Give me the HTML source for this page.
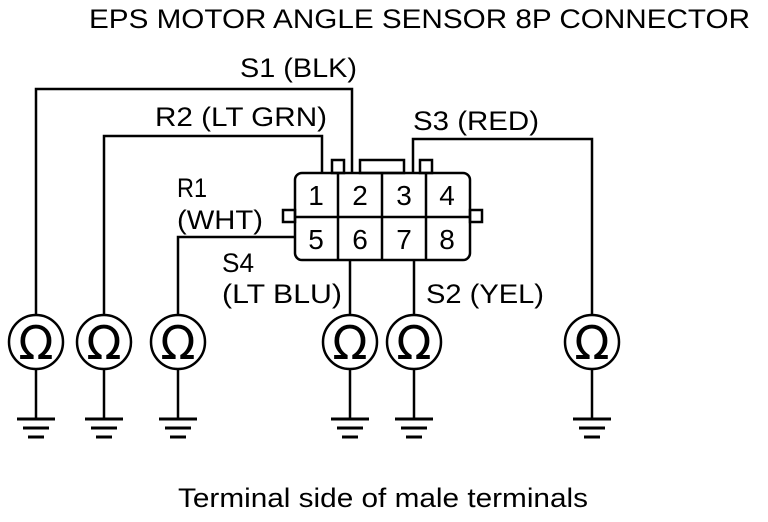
<!DOCTYPE html>
<html><head><meta charset="utf-8"><style>
html,body{margin:0;padding:0;background:#fff;width:768px;height:522px;overflow:hidden}
</style></head><body>
<svg width="768" height="522" viewBox="0 0 768 522" xmlns="http://www.w3.org/2000/svg" font-family="Liberation Sans, Arial, sans-serif" fill="none" stroke="#000" stroke-width="2.5">
<g fill="#000" stroke="none" font-size="27">
<text x="89" y="28" textLength="661" lengthAdjust="spacingAndGlyphs">EPS MOTOR ANGLE SENSOR 8P CONNECTOR</text>
<text x="240" y="77" textLength="117" lengthAdjust="spacingAndGlyphs">S1 (BLK)</text>
<text x="155" y="126" textLength="172" lengthAdjust="spacingAndGlyphs">R2 (LT GRN)</text>
<text x="413" y="130" textLength="126" lengthAdjust="spacingAndGlyphs">S3 (RED)</text>
<text x="177" y="197" textLength="30" lengthAdjust="spacingAndGlyphs">R1</text>
<text x="177" y="229" textLength="86" lengthAdjust="spacingAndGlyphs">(WHT)</text>
<text x="222" y="272" textLength="32" lengthAdjust="spacingAndGlyphs">S4</text>
<text x="222" y="303" textLength="120" lengthAdjust="spacingAndGlyphs">(LT BLU)</text>
<text x="426" y="303" textLength="118" lengthAdjust="spacingAndGlyphs">S2 (YEL)</text>
<text x="178" y="507" textLength="410" lengthAdjust="spacingAndGlyphs">Terminal side of male terminals</text>
<g font-size="28">
<text x="316" y="205" text-anchor="middle">1</text>
<text x="360" y="205" text-anchor="middle">2</text>
<text x="404" y="205" text-anchor="middle">3</text>
<text x="447" y="205" text-anchor="middle">4</text>
<text x="316" y="249" text-anchor="middle">5</text>
<text x="360" y="249" text-anchor="middle">6</text>
<text x="404" y="249" text-anchor="middle">7</text>
<text x="447" y="249" text-anchor="middle">8</text>
</g>
</g>
<rect x="295" y="173" width="175" height="87" rx="7"/>
<line x1="338" y1="173" x2="338" y2="260"/>
<line x1="382" y1="173" x2="382" y2="260"/>
<line x1="426" y1="173" x2="426" y2="260"/>
<line x1="295" y1="217" x2="470" y2="217"/>
<rect x="332" y="160" width="12" height="13"/>
<rect x="360" y="160" width="44" height="13"/>
<rect x="420" y="160" width="12" height="13"/>
<rect x="283" y="210" width="12" height="12"/>
<rect x="470" y="210" width="12" height="12"/>
<polyline points="352,173 352,89 36,89 36,315"/>
<polyline points="322,173 322,136 104,136 104,315"/>
<polyline points="413,173 413,139 592,139 592,315"/>
<polyline points="295,237 178,237 178,315"/>
<line x1="350" y1="260" x2="350" y2="315"/>
<line x1="414" y1="260" x2="414" y2="315"/>
<g font-size="46" font-family="DejaVu Sans, sans-serif">
<g transform="translate(36,0)"><circle cx="0" cy="342" r="27"/><line x1="0" y1="369" x2="0" y2="419"/><line x1="-19" y1="419" x2="19" y2="419" stroke-width="3"/><line x1="-13" y1="428" x2="13" y2="428" stroke-width="3"/><line x1="-8" y1="437" x2="8" y2="437" stroke-width="3"/><text x="0" y="359" text-anchor="middle" fill="#000" stroke="none">Ω</text></g>
<g transform="translate(104,0)"><circle cx="0" cy="342" r="27"/><line x1="0" y1="369" x2="0" y2="419"/><line x1="-19" y1="419" x2="19" y2="419" stroke-width="3"/><line x1="-13" y1="428" x2="13" y2="428" stroke-width="3"/><line x1="-8" y1="437" x2="8" y2="437" stroke-width="3"/><text x="0" y="359" text-anchor="middle" fill="#000" stroke="none">Ω</text></g>
<g transform="translate(178,0)"><circle cx="0" cy="342" r="27"/><line x1="0" y1="369" x2="0" y2="419"/><line x1="-19" y1="419" x2="19" y2="419" stroke-width="3"/><line x1="-13" y1="428" x2="13" y2="428" stroke-width="3"/><line x1="-8" y1="437" x2="8" y2="437" stroke-width="3"/><text x="0" y="359" text-anchor="middle" fill="#000" stroke="none">Ω</text></g>
<g transform="translate(350,0)"><circle cx="0" cy="342" r="27"/><line x1="0" y1="369" x2="0" y2="419"/><line x1="-19" y1="419" x2="19" y2="419" stroke-width="3"/><line x1="-13" y1="428" x2="13" y2="428" stroke-width="3"/><line x1="-8" y1="437" x2="8" y2="437" stroke-width="3"/><text x="0" y="359" text-anchor="middle" fill="#000" stroke="none">Ω</text></g>
<g transform="translate(414,0)"><circle cx="0" cy="342" r="27"/><line x1="0" y1="369" x2="0" y2="419"/><line x1="-19" y1="419" x2="19" y2="419" stroke-width="3"/><line x1="-13" y1="428" x2="13" y2="428" stroke-width="3"/><line x1="-8" y1="437" x2="8" y2="437" stroke-width="3"/><text x="0" y="359" text-anchor="middle" fill="#000" stroke="none">Ω</text></g>
<g transform="translate(592,0)"><circle cx="0" cy="342" r="27"/><line x1="0" y1="369" x2="0" y2="419"/><line x1="-19" y1="419" x2="19" y2="419" stroke-width="3"/><line x1="-13" y1="428" x2="13" y2="428" stroke-width="3"/><line x1="-8" y1="437" x2="8" y2="437" stroke-width="3"/><text x="0" y="359" text-anchor="middle" fill="#000" stroke="none">Ω</text></g>
</g>
</svg>
</body></html>
